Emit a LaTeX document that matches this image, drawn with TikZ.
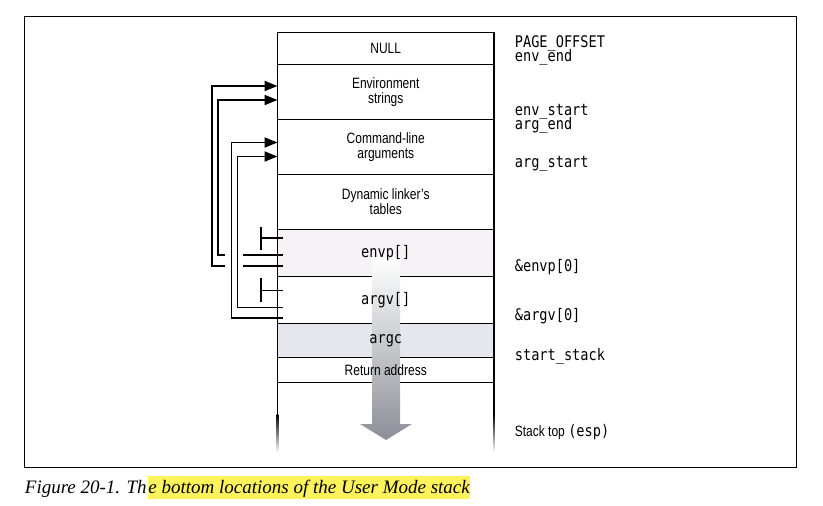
\documentclass[tikz,border=0pt]{standalone}
\usepackage{fontspec}
\setmainfont{Liberation Serif}
\setsansfont{Liberation Sans}[FakeStretch=0.8]
\setmonofont{DejaVu Sans Mono}[FakeStretch=0.85]
\usetikzlibrary{positioning,arrows.meta}
\definecolor{envpfill}{HTML}{F7F2F6}
\definecolor{argcfill}{HTML}{E6E6EF}
\definecolor{arrowgray}{HTML}{8C8F97}
\definecolor{marker}{HTML}{FFF35C}
\tikzset{
  cell/.style={draw, minimum width=216.5pt, outer sep=0pt, inner sep=0pt, align=center,
    font=\sffamily\fontsize{15}{15}\selectfont},
  celltext/.style={inner sep=0pt, align=center, font=\sffamily\fontsize{15}{15}\selectfont},
  addr/.style={anchor=west, align=left, inner sep=0pt,
    font=\ttfamily\fontsize{16}{14}\selectfont\setlength{\lineskiplimit}{-100pt}},
  ptr/.style={line width=1.9pt, -{Triangle[length=13pt,width=10pt]}},
  wire/.style={line width=1.9pt}
}
\begin{document}
\begin{tikzpicture}[x=1pt, y=-1pt, line width=1.8pt]
\useasboundingbox (0,0) rectangle (823,506);
\draw[line width=1pt] (24,16.5) rectangle (796,467.5);

% the stack, top to bottom
\node[cell, minimum height=32pt] (null) at (385.75,48.5) {NULL};
\node[cell, minimum height=55pt, below=0pt of null] (env) {Environment\\strings};
\node[cell, minimum height=55pt, below=0pt of env] (cmd) {Command-line\\arguments};
\node[cell, minimum height=55pt, below=0pt of cmd] (dyn) {Dynamic linker’s\\tables};
\node[cell, minimum height=47pt, fill=envpfill, below=0pt of dyn] (envp) {};
\node[cell, minimum height=47pt, below=0pt of envp] (argv) {};
\node[cell, minimum height=34pt, fill=argcfill, below=0pt of argv] (argc) {};
\node[cell, minimum height=25pt, below=0pt of argc] (ret) {};

% open end of the stack
\draw (ret.south west) -- ++(0,32) coordinate (fadeL);
\draw (ret.south east) -- ++(0,32) coordinate (fadeR);
\shade[top color=black, bottom color=white] ([xshift=-0.9pt]fadeL) rectangle ([xshift=0.9pt,yshift=-38pt]fadeL);
\shade[top color=black, bottom color=white] ([xshift=-0.9pt]fadeR) rectangle ([xshift=0.9pt,yshift=-38pt]fadeR);

% growth arrow
\shade[top color=white, bottom color=arrowgray]
  (372,257) -- (400,257) -- (400,424) -- (412,424) -- (386,440) -- (360,424) -- (372,424) -- cycle;

\node[celltext, font=\ttfamily\fontsize{16}{16}\selectfont] (envptext) at (envp) {envp[]};
\node[celltext, font=\ttfamily\fontsize{16}{16}\selectfont] (argvtext) at (argv) {argv[]};
\node[celltext, font=\ttfamily\fontsize{16}{16}\selectfont] (argctext) at (argc) {argc};
\node[celltext] (rettext) at (ret) {Return address};

% addresses
\node[addr] (lpage) at (514,50) {PAGE\_OFFSET\\env\_end};
\node[addr] (lenvs) at (514,119) {env\_start\\arg\_end};
\node[addr] (largs) at (514,164) {arg\_start};
\node[addr] (lenvp) at (514,267) {\&envp[0]};
\node[addr] (largv) at (514,316) {\&argv[0]};
\node[addr] (lstart) at (514,356) {start\_stack};
\node[addr] (ltop) at (514,432) {{\sffamily\fontsize{15}{15}\selectfont Stack top }(esp)};

% pointers
\coordinate (envA) at (277.5,86);
\coordinate (envB) at (277.5,100);
\coordinate (argA) at (277.5,142.5);
\coordinate (argB) at (277.5,156.5);
\coordinate (envp1) at (283,266);
\coordinate (envp2) at (283,255);
\coordinate (argv1) at (283,318);
\coordinate (argv2) at (283,307.5);
\draw[ptr] (envp1) -| (212,86) -- (envA);
\draw[ptr] (envp2) -| (218,100) -- (envB);
\fill[white] (225,249) rectangle (243,272);
\draw[ptr] (argv1) -| (231.5,142.5) -- (argA);
\draw[ptr] (argv2) -| (237.5,156.5) -- (argB);
\draw[wire] (261,226.5) -- (261,250) (261,238) -- (283,238);
\draw[wire] (261,278) -- (261,302) (261,290.5) -- (283,290.5);

% caption
\node[anchor=base west, inner sep=0pt, font=\itshape\fontsize{19}{22}\selectfont] (capA) at (24,493) {Figure 20-1. Th};
\node[anchor=base west, inner xsep=0pt, inner ysep=0pt, text height=17pt, text depth=6pt, fill=marker,
  font=\itshape\fontsize{19}{22}\selectfont] (capB) at (capA.base east) {e bottom locations of the User Mode stack};
\end{tikzpicture}
\end{document}
